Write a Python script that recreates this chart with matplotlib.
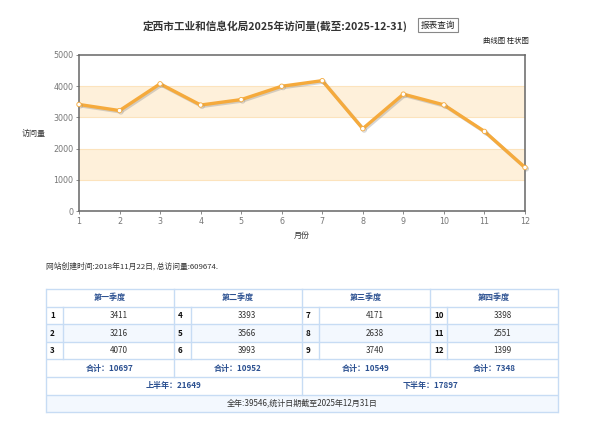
import matplotlib
matplotlib.use('Agg')
import matplotlib.pyplot as plt
import matplotlib.patheffects as pe
from matplotlib.patches import Rectangle

plt.rcParams['font.family'] = ['Noto Sans CJK SC', 'DejaVu Sans']

months = [1, 2, 3, 4, 5, 6, 7, 8, 9, 10, 11, 12]
visits = [3411, 3216, 4070, 3393, 3566, 3993, 4171, 2638, 3740, 3398, 2551, 1399]
quarter_names = ['第一季度', '第二季度', '第三季度', '第四季度']
title = '定西市工业和信息化局2025年访问量(截至:2025-12-31)'
site_info = '网站创建时间:2018年11月22日, 总访问量:609674.'
footer = '全年:39546,统计日期截至2025年12月31日'

W, H = 601, 430
fig = plt.figure(figsize=(W / 100, H / 100), dpi=100)
fig.patch.set_facecolor('white')


def fx(px):
    return px / W


def fy(py):
    return 1 - py / H


# ---- line chart
ax = fig.add_axes([fx(79), fy(211.3), fx(525) - fx(79), fy(54.7) - fy(211.3)])
ax.set_xlim(1, 12)
ax.set_ylim(0, 5000)
for lo, hi in [(1000, 2000), (3000, 4000)]:
    ax.axhspan(lo, hi, facecolor='#fef0da', edgecolor='none', zorder=0)
    ax.axhline(lo, color='#fce3bd', lw=0.8, zorder=0.5)
    ax.axhline(hi, color='#fce3bd', lw=0.8, zorder=0.5)
ax.plot(months, visits, color='#f5aa3c', lw=2.4, solid_joinstyle='round',
        marker='o', markersize=3.2, markerfacecolor='white',
        markeredgecolor='#f5aa3c', markeredgewidth=0.6, zorder=3,
        path_effects=[pe.SimpleLineShadow(offset=(1, -1), shadow_color='#888888', alpha=0.35),
                      pe.Normal()], clip_on=False)
ax.set_xticks(months)
ax.set_yticks([0, 1000, 2000, 3000, 4000, 5000])
ax.tick_params(labelsize=5.8, colors='#777777', length=2, width=0.6, pad=2)
for lab in ax.get_xticklabels() + ax.get_yticklabels():
    lab.set_family('DejaVu Sans')
for s in ax.spines.values():
    s.set_color('#666666')
    s.set_linewidth(1.1)
ax.set_xlabel('月份', fontsize=5.8, color='#333333', labelpad=4)
ax.set_ylabel('访问量', fontsize=5.8, color='#333333', rotation=0, labelpad=14, va='center')

fig.text(fx(275), fy(26), title, fontsize=7.7, fontweight='bold', color='#333333',
         ha='center', va='center')
fig.text(fx(438), fy(25), '报表查询', fontsize=6.2, color='#222222', ha='center', va='center',
         bbox=dict(boxstyle='square,pad=0.3', facecolor='white', edgecolor='#888888', lw=0.8))
fig.text(fx(529), fy(41), '曲线图 柱状图', fontsize=5.3, color='#222222', ha='right', va='center')

# ---- table
tb = fig.add_axes([0, 0, 1, 1])
tb.set_xlim(0, W)
tb.set_ylim(H, 0)
tb.axis('off')

tb.text(46, 266, site_info, fontsize=5.6, color='#333333', ha='left', va='center')

x0, x1 = 46, 558
qw = (x1 - x0) / 4
nw = 17
rows = [289, 306.6, 324.2, 341.8, 359.4, 377, 394.5, 412]
line_c = '#c7dcf4'
blue = '#2c5191'
light = '#f3f8fe'

tb.add_patch(Rectangle((x0, rows[2]), x1 - x0, rows[3] - rows[2], facecolor=light, edgecolor='none'))
tb.add_patch(Rectangle((x0, rows[6]), x1 - x0, rows[7] - rows[6], facecolor=light, edgecolor='none'))

for y in rows:
    tb.plot([x0, x1], [y, y], color=line_c, lw=1, solid_capstyle='butt')
tb.plot([x0, x0], [rows[0], rows[7]], color=line_c, lw=1)
tb.plot([x1, x1], [rows[0], rows[7]], color=line_c, lw=1)
for q in range(1, 4):
    xq = x0 + q * qw
    bottom = rows[6] if q == 2 else rows[5]
    tb.plot([xq, xq], [rows[0], bottom], color=line_c, lw=1)
for q in range(4):
    xn = x0 + q * qw + nw
    tb.plot([xn, xn], [rows[1], rows[4]], color=line_c, lw=1)


def cy(r):
    return (rows[r] + rows[r + 1]) / 2


fs = 5.8
for q in range(4):
    xq = x0 + q * qw
    tb.text(xq + qw / 2, cy(0), quarter_names[q], fontsize=fs, color=blue,
            fontweight='bold', ha='center', va='center')
    qvals = visits[q * 3:q * 3 + 3]
    for i in range(3):
        m = months[q * 3 + i]
        tb.text(xq + 4, cy(1 + i), str(m), fontsize=fs, color='#111111',
                fontweight='bold', ha='left', va='center')
        tb.text(xq + nw + (qw - nw) / 2, cy(1 + i), str(qvals[i]), fontsize=fs,
                color='#333333', ha='center', va='center')
    tb.text(xq + qw / 2, cy(4), '合计：' + str(sum(qvals)), fontsize=fs, color=blue,
            fontweight='bold', ha='center', va='center')

tb.text(x0 + qw, cy(5), '上半年：' + str(sum(visits[:6])), fontsize=fs, color=blue,
        fontweight='bold', ha='center', va='center')
tb.text(x0 + 3 * qw, cy(5), '下半年：' + str(sum(visits[6:])), fontsize=fs, color=blue,
        fontweight='bold', ha='center', va='center')
tb.text((x0 + x1) / 2, cy(6), footer, fontsize=fs, color='#333333', ha='center', va='center')

fig.savefig('out.png', dpi=100, facecolor='white')
